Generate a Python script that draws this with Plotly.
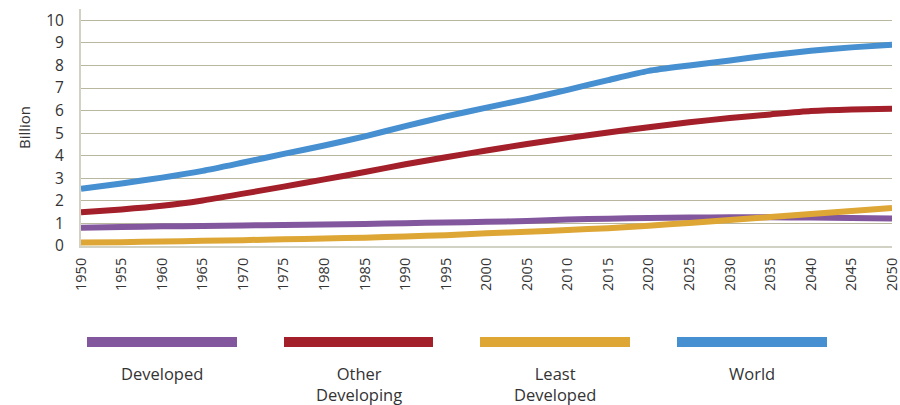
import plotly.graph_objects as go

years = list(range(1950, 2051, 5))
developed = [0.81, 0.84, 0.87, 0.89, 0.91, 0.93, 0.95, 0.98, 1.01, 1.04, 1.07, 1.11, 1.17, 1.21, 1.24, 1.26, 1.27, 1.27, 1.26, 1.24, 1.22]
other_developing = [1.50, 1.62, 1.78, 2.02, 2.32, 2.63, 2.95, 3.28, 3.62, 3.93, 4.23, 4.52, 4.78, 5.03, 5.26, 5.48, 5.67, 5.83, 5.98, 6.05, 6.08]
least_developed = [0.15, 0.17, 0.20, 0.23, 0.26, 0.30, 0.33, 0.37, 0.42, 0.48, 0.56, 0.63, 0.71, 0.79, 0.90, 1.02, 1.15, 1.28, 1.42, 1.55, 1.68]
world = [2.53, 2.77, 3.03, 3.33, 3.70, 4.08, 4.45, 4.86, 5.31, 5.74, 6.13, 6.51, 6.92, 7.35, 7.76, 8.00, 8.22, 8.45, 8.65, 8.80, 8.92]

series_names = ["Developed", "Other Developing", "Least Developed", "World"]
legend_labels = ["Developed", "Other<br>Developing", "Least<br>Developed", "World"]
colors = ["#83579e", "#a31f2a", "#dea634", "#468fd0"]
series = [developed, other_developing, least_developed, world]

fig = go.Figure()
for name, vals, col in zip(series_names, series, colors):
    fig.add_trace(go.Scatter(x=years, y=vals, mode="lines", name=name,
                             line=dict(color=col, width=6, shape="spline", smoothing=0.6),
                             showlegend=False, cliponaxis=False))

L, R, T, B = 81, 8, 9, 159
W, H = 900, 405
pw, ph = W - L - R, H - T - B

def px_x(px):
    return (px - L) / pw

def px_y(py):
    return (H - B - py) / ph

bar_px = [(87, 237), (284, 433), (480, 630), (677, 827)]
shapes = []
annotations = []
for (x0, x1), col, lab in zip(bar_px, colors, legend_labels):
    shapes.append(dict(type="rect", xref="paper", yref="paper",
                       x0=px_x(x0), x1=px_x(x1), y0=px_y(347), y1=px_y(337),
                       fillcolor=col, line=dict(width=0), layer="above"))
    annotations.append(dict(xref="paper", yref="paper", x=px_x((x0 + x1) / 2), y=px_y(360),
                            text=lab, showarrow=False, xanchor="center", yanchor="top",
                            align="center", font=dict(size=16.5, color="#333333", family="Open Sans")))

fig.update_layout(
    width=W, height=H,
    margin=dict(l=L, r=R, t=T, b=B),
    plot_bgcolor="white", paper_bgcolor="white",
    font=dict(family="Open Sans", color="#333333"),
    shapes=shapes, annotations=annotations,
    xaxis=dict(range=[1950, 2050], tickmode="array", tickvals=years,
               ticktext=[str(y) for y in years], tickangle=-90,
               showgrid=False, zeroline=False, showline=True,
               linecolor="#d2d2c4", linewidth=2, ticks="",
               ticklabeloverflow="allow", automargin=False,
               tickfont=dict(size=14.5, color="#333333"), ticklabelstandoff=4),
    yaxis=dict(range=[0, 10.5], tickvals=list(range(0, 11)),
               showgrid=True, gridcolor="#b9b89f", gridwidth=1.3,
               zeroline=False, showline=True, linecolor="#d2d2c4", linewidth=2,
               ticks="", tickfont=dict(size=15.5, color="#333333"),
               ticklabelstandoff=12, automargin=False,
               title=dict(text="Billion", font=dict(size=15, color="#333333"), standoff=12)),
)

fig.write_html("out.html")
